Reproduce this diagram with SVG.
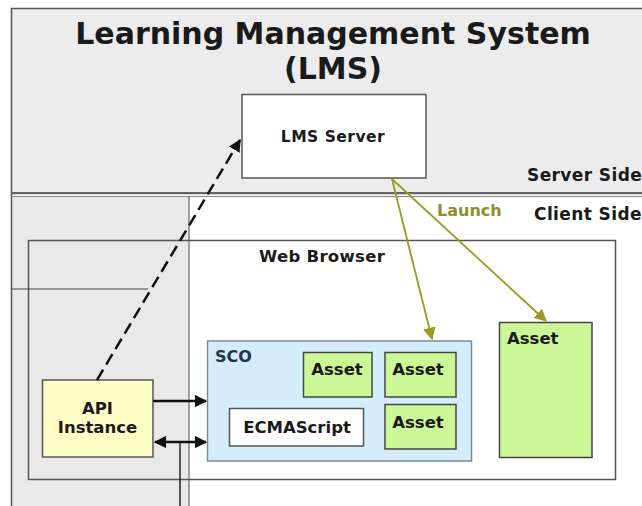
<svg xmlns="http://www.w3.org/2000/svg" width="642" height="506" viewBox="0 0 642 506">
<defs>
<style>
text{font-family:"DejaVu Sans","Liberation Sans",sans-serif;font-weight:bold;fill:#1a1a1a}
.box{stroke:#555;stroke-width:1.5}
.asset{fill:#ccf796;stroke:#444;stroke-width:1.5}
.lbl{font-size:16.5px}
.olive{stroke:#9a9a22;stroke-width:1.8;fill:none}
.blk{stroke:#111;stroke-width:2.5;fill:none}
</style>
<marker id="ah" viewBox="0 0 10 10" refX="9" refY="5" markerWidth="5" markerHeight="5" orient="auto-start-reverse"><path d="M0,0 L10,5 L0,10 z" fill="#111"/></marker>
<marker id="ao" viewBox="0 0 10 10" refX="9" refY="5" markerWidth="7" markerHeight="7" orient="auto"><path d="M0,0 L10,5 L0,10 z" fill="#9a9a22"/></marker>
</defs>
<rect width="642" height="506" fill="#fff"/>
<g id="server-side">
<rect x="11.5" y="8.5" width="640" height="185" fill="#ececec" stroke="#555" stroke-width="1.5"/>
<text x="333" y="44" font-size="30" text-anchor="middle">Learning Management System</text>
<text x="333" y="79" font-size="30" text-anchor="middle">(LMS)</text>
<text x="527" y="181" font-size="17" letter-spacing="0.4">Server Side</text>
</g>
<g id="client-side">
<rect x="12" y="196" width="177" height="320" fill="#e9e9e9"/>
<line x1="11.5" y1="193" x2="11.5" y2="506" stroke="#555" stroke-width="1.5"/>
<line x1="11" y1="193" x2="642" y2="193" stroke="#666" stroke-width="2"/>
<line x1="11" y1="196.5" x2="642" y2="196.5" stroke="#888" stroke-width="1"/>
<line x1="189" y1="197" x2="189" y2="506" stroke="#666" stroke-width="1.2"/>
<text x="534" y="220" font-size="17" letter-spacing="0.4">Client Side</text>
</g>
<g id="web-browser">
<rect x="28.5" y="240.5" width="587" height="239" fill="none" class="box"/>
<text x="259" y="262" class="lbl" letter-spacing="0.3">Web Browser</text>
</g>
<g id="lms-server">
<rect x="242" y="94.5" width="184" height="83.5" fill="#fff" class="box"/>
<text x="333" y="142" font-size="15.5" letter-spacing="0.5" text-anchor="middle">LMS Server</text>
</g>
<g id="sco">
<rect x="207.5" y="341" width="264" height="120" fill="#d5ecfb" stroke="#7a8a99" stroke-width="1.5"/>
<text x="215" y="362" font-size="16" style="fill:#1d3550">SCO</text>
</g>
<g id="asset-1">
<rect x="303.5" y="352.5" width="68.5" height="44.5" class="asset"/>
<text x="337" y="375" class="lbl" text-anchor="middle">Asset</text>
</g>
<g id="asset-2">
<rect x="385" y="352.5" width="71" height="44.5" class="asset"/>
<text x="418" y="375" class="lbl" text-anchor="middle">Asset</text>
</g>
<g id="asset-3">
<rect x="385" y="404.5" width="71" height="44.5" class="asset"/>
<text x="418" y="428" class="lbl" text-anchor="middle">Asset</text>
</g>
<g id="ecmascript">
<rect x="229.5" y="408.5" width="134" height="37.5" fill="#fff" class="box"/>
<text x="297" y="433" class="lbl" text-anchor="middle">ECMAScript</text>
</g>
<g id="asset-4">
<rect x="499.5" y="322.5" width="92.5" height="135" class="asset"/>
<text x="507" y="344" class="lbl">Asset</text>
</g>
<g id="api-instance">
<rect x="42.5" y="380" width="110.5" height="77" fill="#fffec7" class="box"/>
<text x="97.5" y="414" font-size="16.5" text-anchor="middle">API</text>
<text x="97.5" y="433" font-size="16.5" text-anchor="middle">Instance</text>
</g>
<g id="connectors">
<line x1="12" y1="289" x2="148" y2="289" stroke="#444" stroke-width="1.2"/>
<line x1="97" y1="380" x2="240" y2="140" class="blk" stroke-dasharray="12,6" marker-end="url(#ah)"/>
<line x1="392" y1="179" x2="432" y2="339" class="olive" marker-end="url(#ao)"/>
<line x1="392" y1="179" x2="546" y2="321" class="olive" marker-end="url(#ao)"/>
<text x="437" y="216" font-size="16" style="fill:#8f8f2a">Launch</text>
<line x1="153" y1="401" x2="206" y2="401" class="blk" marker-end="url(#ah)"/>
<line x1="155" y1="442" x2="206" y2="442" class="blk" marker-start="url(#ah)" marker-end="url(#ah)"/>
<line x1="180" y1="442" x2="180" y2="506" stroke="#222" stroke-width="1.5"/>
</g>
</svg>
